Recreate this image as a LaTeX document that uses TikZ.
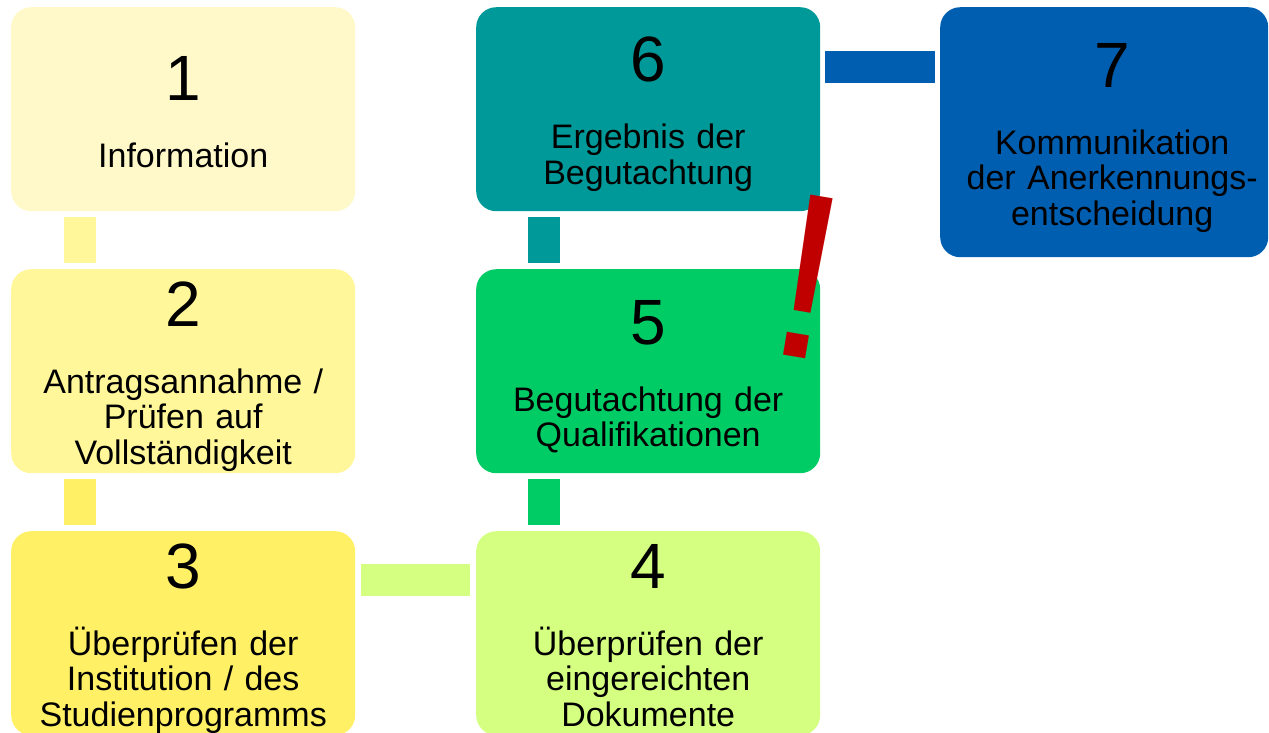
\documentclass[tikz,border=0pt]{standalone}
\usepackage{fontspec}
\setmainfont{Liberation Sans}
\definecolor{cA}{HTML}{FFF9C9}
\definecolor{cB}{HTML}{FFF799}
\definecolor{cC}{HTML}{FFF066}
\definecolor{cD}{HTML}{D4FF80}
\definecolor{cE}{HTML}{00CC66}
\definecolor{cF}{HTML}{009999}
\definecolor{cG}{HTML}{005EB0}
\definecolor{cX}{HTML}{C00000}
\newcommand\stagenum[2][55pt]{{\fontsize{64}{64}\selectfont\rule{0pt}{#1}#2}\\[31.5pt]}
\newcommand\rs{\hspace*{16pt}}
\begin{document}
\begin{tikzpicture}[x=1pt,y=-1pt,
  stage/.style={rectangle, rounded corners=20pt, minimum width=344pt,
    minimum height=204pt, inner sep=0pt, anchor=north west, align=center,
    text width=336pt, font=\fontsize{34}{35.5}\selectfont},
  conn/.style={line width=31.5pt, shorten <=6pt, shorten >=6pt}]
\useasboundingbox (0,0) rectangle (1269,732);
\node[stage, fill=cA] (b1) at (11,7) {\stagenum[50pt]{1}Information};
\node[stage, fill=cB] (b2) at (11,269) {\stagenum{2}Antragsannahme /\\Prüfen auf\\Vollständigkeit};
\node[stage, fill=cC] (b3) at (11,531) {\stagenum{3}Überprüfen der\\Institution / des\\Studienprogramms};
\node[stage, fill=cD] (b4) at (476,531) {\stagenum[48pt]{4}Überprüfen der\\eingereichten\\Dokumente};
\node[stage, fill=cE] (b5) at (476,269) {\stagenum{5}Begutachtung der\\Qualifikationen};
\node[stage, fill=cF] (b6) at (476,7) {\stagenum{6}Ergebnis der\\Begutachtung};
\node[stage, fill=cG, minimum width=328pt, minimum height=250pt, text width=320pt] (b7) at (940,7) {\rs\stagenum{7}\rs Kommunikation\\\rs der Anerkennungs-\\\rs entscheidung};
\draw[conn, draw=cB] ([xshift=69pt]b1.south west) -- ([xshift=69pt]b2.north west);
\draw[conn, draw=cC] ([xshift=69pt]b2.south west) -- ([xshift=69pt]b3.north west);
\draw[conn, draw=cD] ([yshift=-49pt]b3.north east) -- ([yshift=-49pt]b4.north west);
\draw[conn, draw=cE] ([xshift=68pt]b4.north west) -- ([xshift=68pt]b5.south west);
\draw[conn, draw=cF] ([xshift=68pt]b5.north west) -- ([xshift=68pt]b6.south west);
\draw[conn, draw=cG, shorten <=5pt, shorten >=5pt] ([yshift=-60pt]b6.north east) -- ([yshift=-60pt]b7.north west);
\node[rotate=-9.6, text=cX, inner sep=0pt, font=\fontsize{236}{236}\selectfont] (excl) at (808,277) {!};
\end{tikzpicture}
\end{document}
